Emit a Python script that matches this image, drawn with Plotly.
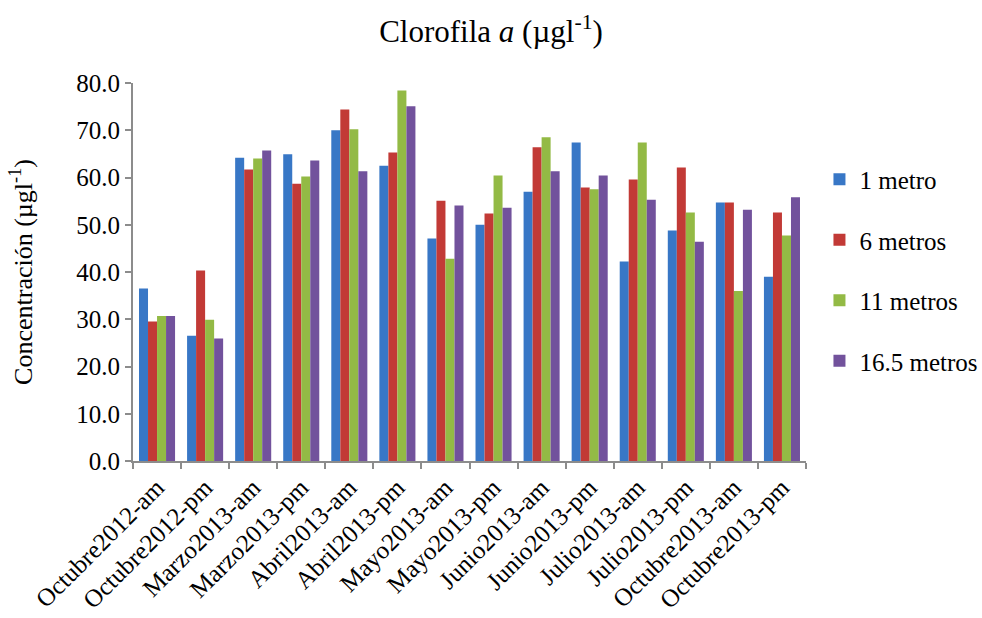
import plotly.graph_objects as go

categories = ["Octubre2012-am", "Octubre2012-pm", "Marzo2013-am", "Marzo2013-pm",
              "Abril2013-am", "Abril2013-pm", "Mayo2013-am", "Mayo2013-pm",
              "Junio2013-am", "Junio2013-pm", "Julio2013-am", "Julio2013-pm",
              "Octubre2013-am", "Octubre2013-pm"]

m1 = [36.5, 26.5, 64.2, 64.9, 70.0, 62.5, 47.1, 50.0, 57.0, 67.4, 42.2, 48.8, 54.7, 39.0]
m6 = [29.5, 40.3, 61.7, 58.7, 74.4, 65.3, 55.1, 52.4, 66.4, 57.9, 59.6, 62.1, 54.7, 52.6]
m11 = [30.7, 29.9, 64.0, 60.2, 70.2, 78.4, 42.8, 60.4, 68.5, 57.5, 67.4, 52.6, 36.0, 47.7]
m165 = [30.7, 25.9, 65.7, 63.6, 61.3, 75.1, 54.1, 53.6, 61.3, 60.4, 55.3, 46.4, 53.2, 55.8]

series_names = ["1 metro", "6 metros", "11 metros", "16.5 metros"]
series_values = [m1, m6, m11, m165]
colors = ["#3877C6", "#C23A36", "#93BA45", "#72529C"]

FONT = "Liberation Serif, Times New Roman, serif"

fig = go.Figure()
for i, (name, vals, col) in enumerate(zip(series_names, series_values, colors)):
    fig.add_trace(go.Bar(
        x=categories, y=vals, name=name, legendgroup=name,
        marker=dict(color=col, line=dict(width=0)),
    ))

fig.update_layout(
    width=982, height=618,
    margin=dict(l=133, r=176, t=83, b=157, autoexpand=False),
    paper_bgcolor="white", plot_bgcolor="white",
    font=dict(family=FONT, size=25, color="black"),
    title=dict(text="Clorofila <i>a</i> (µgl<sup>-1</sup>)", x=0.5, xref="container",
               y=0.95, yref="container", xanchor="center", yanchor="middle",
               font=dict(size=31, family=FONT)),
    barmode="group", bargap=0.25, bargroupgap=0,
    showlegend=True,
    legend=dict(x=1.02, xanchor="left", y=0.505, yanchor="middle",
                font=dict(size=25, family=FONT), tracegroupgap=25,
                bgcolor="rgba(0,0,0,0)"),
    xaxis=dict(
        type="category", tickangle=-45, showline=True, linecolor="#8c8c8c", linewidth=2,
        ticks="outside", ticklen=6, tickcolor="#8c8c8c", tickwidth=1.5, tickson="boundaries",
        showgrid=False, tickfont=dict(size=25, family=FONT), automargin=False,
    ),
    yaxis=dict(
        range=[0, 80], dtick=10, tickformat=".1f", showline=True, linecolor="#8c8c8c",
        linewidth=2, ticks="outside", ticklen=6, tickcolor="#8c8c8c", tickwidth=1.5,
        showgrid=False, zeroline=False, tickfont=dict(size=25, family=FONT), automargin=False,
        title=dict(text="Concentración (µgl<sup>-1</sup>)", font=dict(size=26, family=FONT), standoff=36),
    ),
)

fig.write_html("out.html")
